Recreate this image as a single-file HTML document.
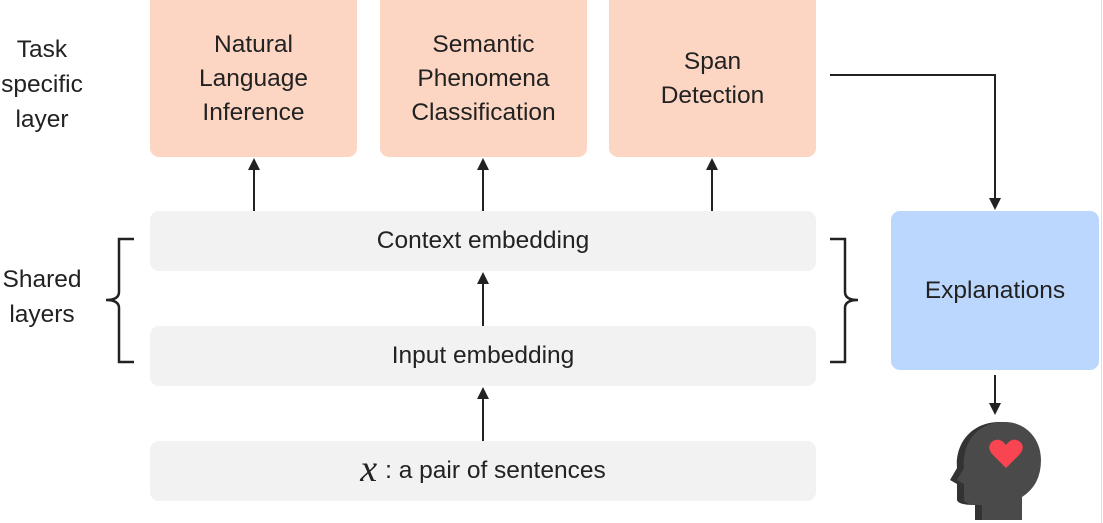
<!DOCTYPE html>
<html><head><meta charset="utf-8"><style>
body{margin:0;width:1103px;height:523px;background:#fff;position:relative;overflow:hidden;font-family:"Liberation Sans","DejaVu Sans",sans-serif;color:#222}
.b{position:absolute;display:flex;align-items:center;justify-content:center;text-align:center;font-size:24.5px;line-height:34px;border-radius:9px}
.p{background:#fdd6c3}.g{background:#f2f2f2}.bl{background:#bcd7fd}
.l{position:absolute;text-align:center;font-size:24.5px;line-height:35px}
svg{position:absolute;left:0;top:0}
</style></head><body>
<div class="b p" style="left:150px;top:-10px;width:207px;height:167px;padding-top:10px;box-sizing:border-box">Natural<br>Language<br>Inference</div>
<div class="b p" style="left:380px;top:-10px;width:207px;height:167px;padding-top:10px;box-sizing:border-box">Semantic<br>Phenomena<br>Classification</div>
<div class="b p" style="left:609px;top:-10px;width:207px;height:167px;padding-top:10px;box-sizing:border-box">Span<br>Detection</div>
<div class="b g" style="left:150px;top:211px;width:666px;height:60px">Context embedding</div>
<div class="b g" style="left:150px;top:326px;width:666px;height:60px">Input embedding</div>
<div class="b g" style="left:150px;top:441px;width:666px;height:60px"><i style="font-family:'Liberation Serif',serif;font-size:38px;margin-right:8px;position:relative;top:-2px">x</i> : a pair of sentences</div>
<div class="b bl" style="left:891px;top:211px;width:208px;height:159px">Explanations</div>
<div class="l" style="left:-12px;top:32px;width:108px">Task<br>specific<br>layer</div>
<div class="l" style="left:-12px;top:262px;width:108px">Shared<br>layers</div>
<svg width="1103" height="523">
<defs><marker id="a" markerWidth="12" markerHeight="12" refX="6" refY="6" orient="auto" markerUnits="userSpaceOnUse"><path d="M0,0 L12,6 L0,12 z" fill="#222"/></marker></defs>
<g stroke="#222" stroke-width="2" fill="none">
<line x1="254" y1="211" x2="254" y2="164" marker-end="url(#a)"/>
<line x1="483" y1="211" x2="483" y2="164" marker-end="url(#a)"/>
<line x1="712" y1="211" x2="712" y2="164" marker-end="url(#a)"/>
<line x1="483" y1="326" x2="483" y2="278" marker-end="url(#a)"/>
<line x1="483" y1="441" x2="483" y2="393" marker-end="url(#a)"/>
<polyline points="830,75 995,75 995,203" />
<line x1="995" y1="203" x2="995" y2="204" marker-end="url(#a)"/>
<line x1="995" y1="375" x2="995" y2="409" marker-end="url(#a)"/>
<path d="M134,239 H119 V292 Q119,300 106,300 Q119,300 119,308 V362 H134" stroke-width="2.5"/>
<path d="M830,239 H845 V292 Q845,300 858,300 Q845,300 845,308 V362 H830" stroke-width="2.5"/>
</g>
<g>
<path d="M1000,422 C970,422 955,445 957,468 L950,480 L957,484 L957,500 Q958,505 975,505 L975,520 L1020,520 L1020,497 Q1040,485 1040,460 C1040,438 1022,422 1000,422 Z" fill="#333"/>
<path d="M1005,422 C975,422 962,445 964,468 L957,480 L964,484 L964,500 Q965,505 982,505 L982,520 L1022,520 L1022,497 Q1041,485 1041,460 C1041,438 1025,422 1005,422 Z" fill="#4a4a4a"/>
<path d="M1006,468 L992,454 Q986,446 993,441 Q1000,437 1006,445 Q1012,437 1019,441 Q1026,446 1020,454 Z" fill="#f94452"/>
</g>
<line x1="1101.5" y1="0" x2="1101.5" y2="523" stroke="#ddd" stroke-width="1"/>
</svg>
</body></html>
